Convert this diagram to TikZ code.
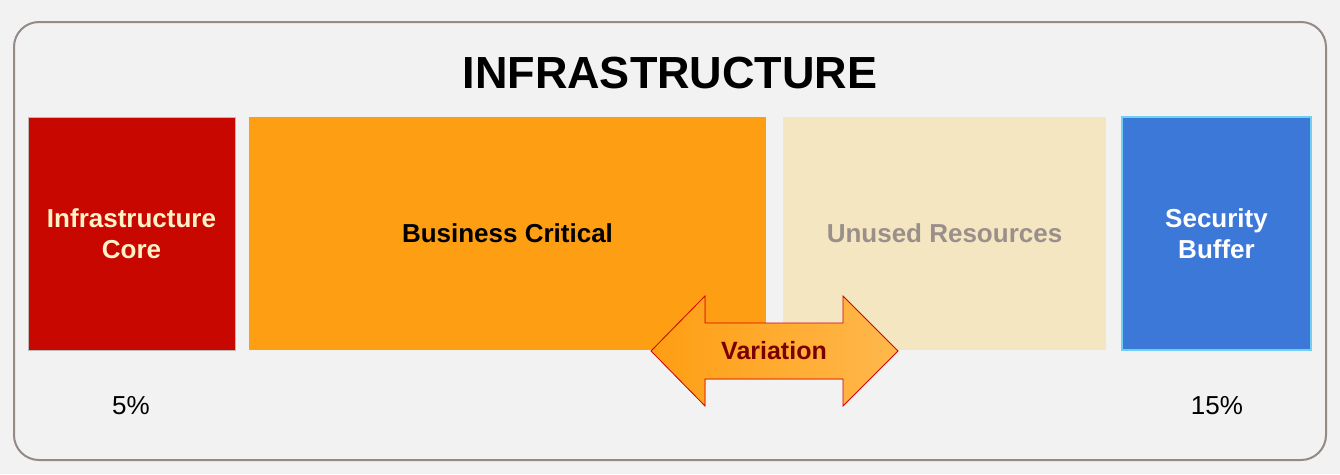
\documentclass[tikz,border=0pt]{standalone}
\usepackage{fontspec}
\setmainfont{Liberation Sans}
\definecolor{bgc}{HTML}{F2F2F2}
\definecolor{framec}{HTML}{948A86}
\definecolor{corec}{HTML}{C80800}
\definecolor{critc}{HTML}{FE9E12}
\definecolor{unusedc}{HTML}{F3E6C0}
\definecolor{unusedt}{HTML}{9A8F8A}
\definecolor{bufc}{HTML}{3C78D8}
\definecolor{bufb}{HTML}{6FD0F5}
\definecolor{creamt}{HTML}{FFF2C8}
\definecolor{arrowr}{HTML}{FFB84D}
\definecolor{vart}{HTML}{7A0000}
\begin{document}
\begin{tikzpicture}[x=1pt,y=-1pt,
  blockbox/.style={rectangle,inner sep=0pt,outer sep=0pt,minimum height=233pt,
    font=\fontsize{26}{31}\selectfont\bfseries,align=center},
  pct/.style={font=\fontsize{26}{30}\selectfont,text=black}]
\useasboundingbox (0,0) rectangle (1340,474);
\fill[bgc] (0,0) rectangle (1340,474);
\draw[framec,line width=2pt,rounded corners=25pt] (14,22) rectangle (1326,460);
\node[font=\fontsize{45}{50}\selectfont\bfseries] (title) at (670,73) {INFRASTRUCTURE};
\node[blockbox,fill=corec,draw=framec!60,line width=0.8pt,minimum width=207pt,text=creamt] (core) at (131.5,233.5) {Infrastructure\\Core};
\node[blockbox,fill=critc,minimum width=517pt,text=black] (crit) at (507.5,233.5) {Business Critical};
\node[blockbox,fill=unusedc,minimum width=323pt,text=unusedt] (unused) at (944.5,233.5) {Unused Resources};
\node[blockbox,fill=bufc,draw=bufb,line width=1.5pt,minimum width=189pt,text=white] (buf) at (1216.5,233.5) {Security\\Buffer};
\coordinate (aL) at (651,351);
\coordinate (aR) at (898,351);
\filldraw[draw=red!85!black,line width=0.8pt,left color=critc,right color=arrowr]
  (aL) -- (705,296) -- (705,323) -- (843,323) -- (843,296) -- (aR)
  -- (843,406) -- (843,379) -- (705,379) -- (705,406) -- cycle;
\node[font=\fontsize{25}{28}\selectfont\bfseries,text=vart] (var) at (774,351) {Variation};
\node[pct] (p5) at (131,406) {5\%};
\node[pct] (p15) at (1217,406) {15\%};
\end{tikzpicture}
\end{document}
